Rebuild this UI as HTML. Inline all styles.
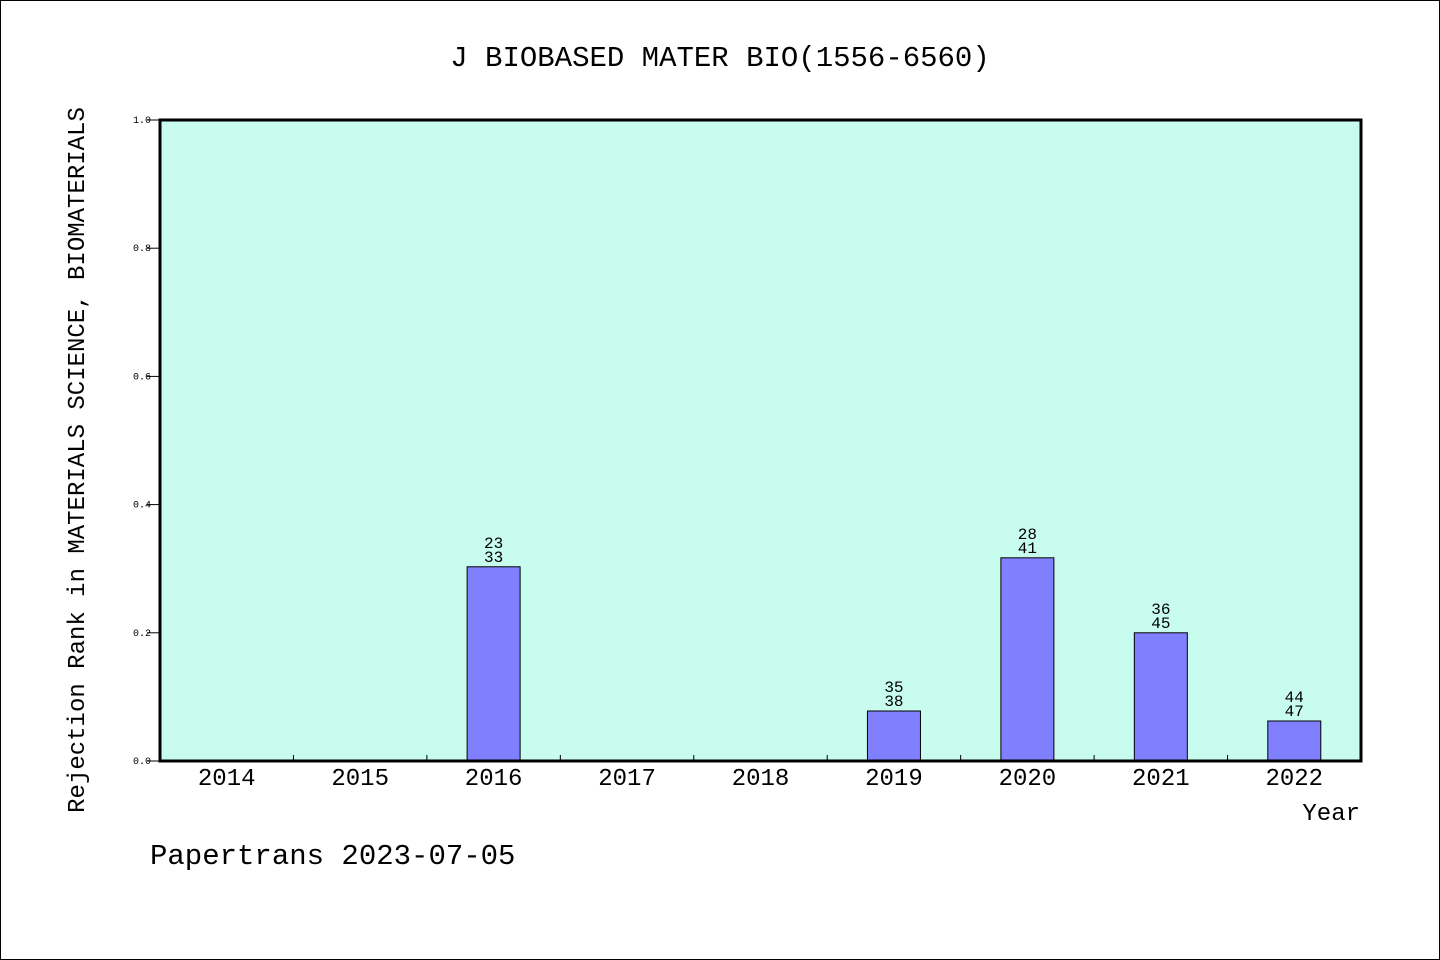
<!DOCTYPE html>
<html><head><meta charset="utf-8"><style>
body{margin:0;background:#fff}
svg{display:block;font-family:"Liberation Mono","DejaVu Sans Mono",monospace}
</style></head><body>
<svg id="c" width="1440" height="960" xmlns="http://www.w3.org/2000/svg">
<rect x="0.5" y="0.5" width="1439" height="959" fill="#fff" stroke="#000"/>
<text x="720" y="66" font-size="29" text-anchor="middle">J BIOBASED MATER BIO(1556-6560)</text>
<rect x="160" y="120" width="1201" height="641" fill="#c8fcee"/>
<g id="ticks"></g>
<g id="bars"></g>
<rect x="160" y="120" width="1201" height="641" fill="none" stroke="#000" stroke-width="3"/>
<text transform="translate(84,460) rotate(-90)" font-size="24" text-anchor="middle">Rejection Rank in MATERIALS SCIENCE, BIOMATERIALS</text>
<text x="1360" y="820" font-size="24" text-anchor="end">Year</text>
<text x="150" y="864" font-size="29">Papertrans 2023-07-05</text>
</svg>
<script>
const years=["2014","2015","2016","2017","2018","2019","2020","2021","2022"];
const values=[0,0,0.303,0,0,0.078,0.317,0.2,0.0624];
const labelTop=["","","23","","","35","28","36","44"];
const labelBottom=["","","33","","","38","41","45","47"];
const yTicks=[0,0.2,0.4,0.6,0.8,1.0];
const NS="http://www.w3.org/2000/svg";
const X0=160,W=1201,Y0=761,H=641;
const slot=W/years.length;
const xc=i=>X0+slot*(i+0.5);
const y=v=>Y0-v*H;
function mk(t,a,p){const e=document.createElementNS(NS,t);for(const k in a)e.setAttribute(k,a[k]);p.appendChild(e);return e;}
const tg=document.getElementById('ticks'),bg=document.getElementById('bars');
yTicks.forEach(v=>{
 const l=mk('line',{x1:147,x2:160,y1:y(v),y2:y(v),stroke:'#000'},tg);
 
 
 const t=mk('text',{x:151,y:y(v)+3,'font-size':10,'text-anchor':'end'},tg);
 t.textContent=v.toFixed(1);
 
 
});
years.forEach((yr,i)=>{
 if(i>0){const l=mk('line',{x1:X0+slot*i,x2:X0+slot*i,y1:Y0,y2:Y0-6,stroke:'#000'},tg);
 
 }
 const t=mk('text',{x:xc(i),y:785,'font-size':24,'text-anchor':'middle'},tg);
 t.textContent=yr;
 
 
 if(values[i]>0){
  const r=mk('rect',{x:xc(i)-26.5,y:y(values[i]),width:53,height:values[i]*H,fill:'#8080ff',stroke:'#000'},bg);
  
  
  const a=mk('text',{x:xc(i),y:y(values[i])-19,'font-size':16,'text-anchor':'middle'},bg);
  a.textContent=labelTop[i];
  
  
  const b=mk('text',{x:xc(i),y:y(values[i])-5,'font-size':16,'text-anchor':'middle'},bg);
  b.textContent=labelBottom[i];
  
  
 }
});
</script>
</body></html>
